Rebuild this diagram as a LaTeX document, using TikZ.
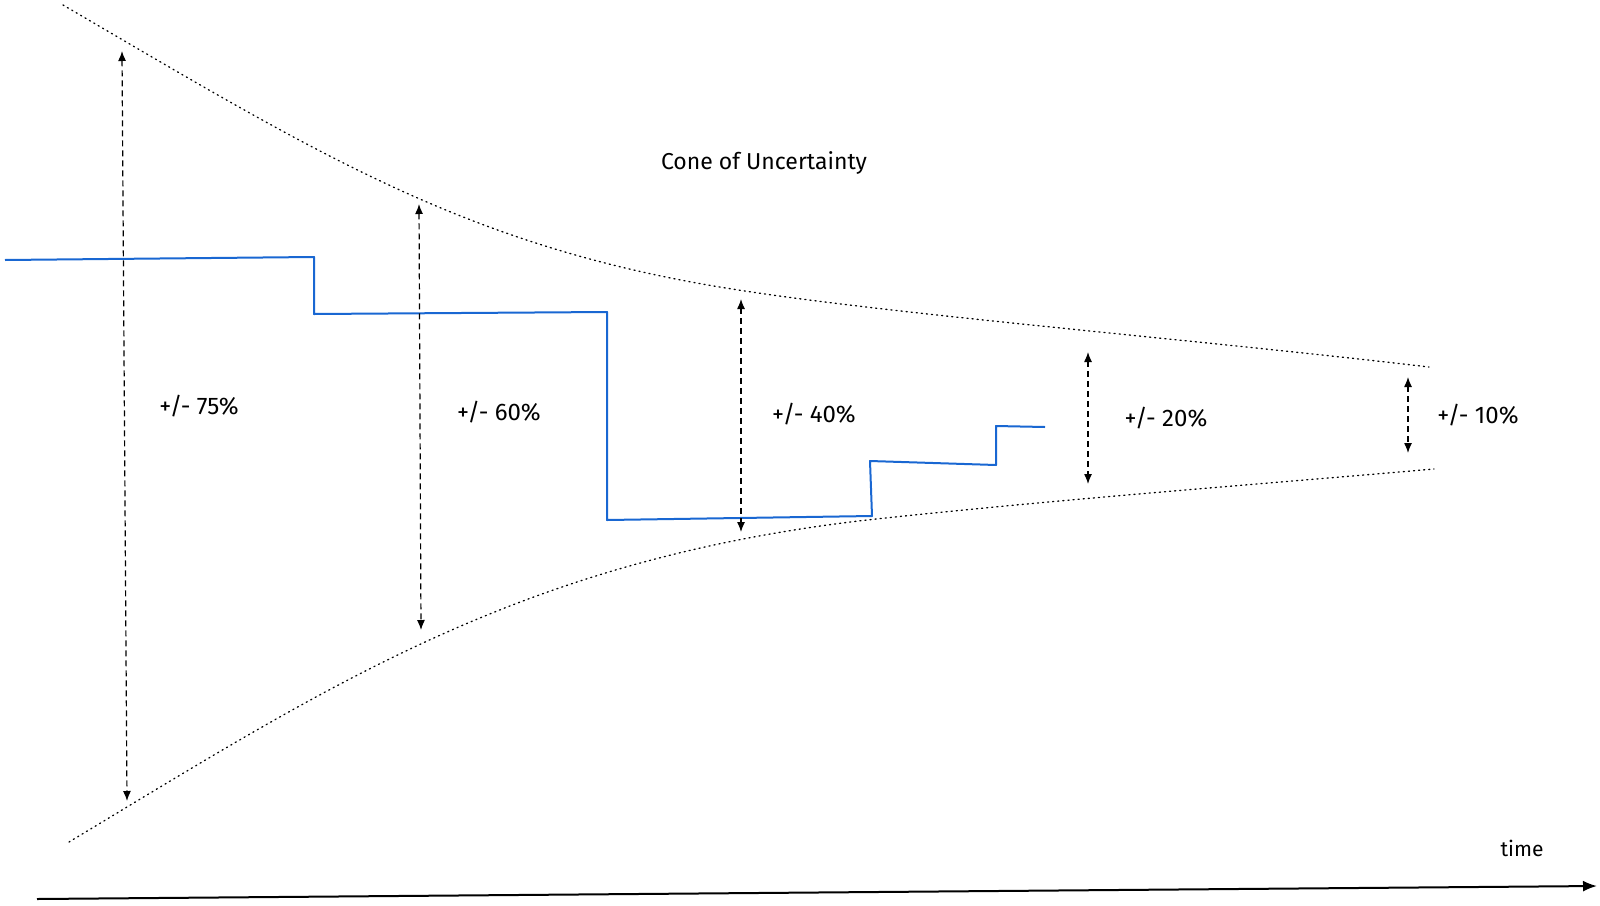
\documentclass[tikz,border=0pt]{standalone}
\usepackage{fontspec}
\setmainfont{Fira Sans}
\usetikzlibrary{arrows.meta}
\definecolor{exblue}{RGB}{25,103,210}
\begin{document}
\begin{tikzpicture}[x=1pt,y=-1pt,
  cone/.style={line width=1.3pt,dash pattern=on 1.1pt off 4pt,line cap=round},
  spread/.style={line width=1.2pt,dash pattern=on 6pt off 4pt,{Latex[length=10pt,width=8pt]}-{Latex[length=10pt,width=8pt]}},
  est/.style={exblue,line width=2pt,line join=round},
  lbl/.style={font=\fontsize{24}{28}\selectfont,inner sep=0pt}]
\useasboundingbox (0,0) rectangle (1600,905);
% cone boundaries
\coordinate (u0) at (63,5);
\coordinate (u1) at (745,291);
\coordinate (u2) at (1429,367);
\coordinate (d0) at (69,842);
\coordinate (d1) at (867,520);
\coordinate (d2) at (1434,469);
\draw[cone] (u0) .. controls (320,155) and (470,250) .. (u1) .. controls (900,315) and (1200,340) .. (u2);
\draw[cone] (d0) .. controls (330,685) and (520,560) .. (d1) .. controls (1050,500) and (1250,485) .. (d2);
% estimate line
\coordinate (b0) at (5,260);
\coordinate (b1) at (314,257);
\coordinate (b2) at (314,314);
\coordinate (b3) at (607,312);
\coordinate (b4) at (607,520);
\coordinate (b5) at (872,516);
\coordinate (b6) at (870,461);
\coordinate (b7) at (996,465);
\coordinate (b8) at (996,426);
\coordinate (b9) at (1045,427);
\draw[est] (b0) -- (b1) -- (b2) -- (b3) -- (b4) -- (b5) -- (b6) -- (b7) -- (b8) -- (b9);
% ranges
\coordinate (r1t) at (122,51);  \coordinate (r1b) at (127,801);
\coordinate (r2t) at (419,204); \coordinate (r2b) at (421,630);
\coordinate (r3t) at (741,299); \coordinate (r3b) at (741,532);
\coordinate (r4t) at (1088,352); \coordinate (r4b) at (1088,484);
\coordinate (r5t) at (1408,377); \coordinate (r5b) at (1408,453);
\draw[spread] (r1t) -- (r1b);
\draw[spread] (r2t) -- (r2b);
\draw[spread] (r3t) -- (r3b);
\draw[spread] (r4t) -- (r4b);
\draw[spread] (r5t) -- (r5b);
% labels
\node[lbl] (l75) at (199,406) {+/- 75\%};
\node[lbl] (l60) at (499,412) {+/- 60\%};
\node[lbl] (l40) at (814,414) {+/- 40\%};
\node[lbl] (l20) at (1166,418) {+/- 20\%};
\node[lbl] (l10) at (1478,415) {+/- 10\%};
\node[lbl,font=\fontsize{23}{27}\selectfont] (title) at (764,163) {Cone of Uncertainty};
\node[lbl,font=\fontsize{21}{25}\selectfont] (time) at (1522,848) {time};
% time axis
\coordinate (t0) at (37,899);
\coordinate (t1) at (1597,886);
\draw[line width=2pt,-{Latex[length=14pt,width=11pt]}] (t0) -- (t1);
\end{tikzpicture}
\end{document}
